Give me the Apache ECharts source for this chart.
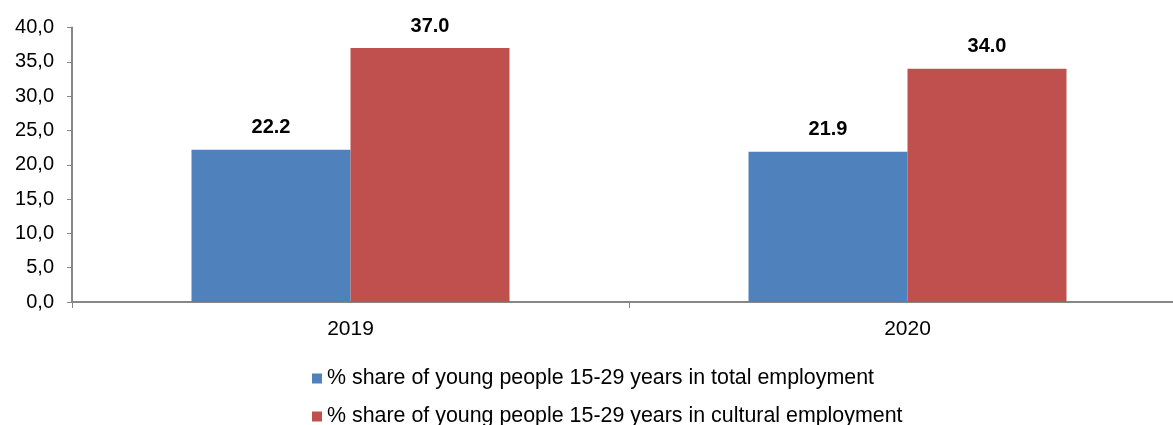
<!DOCTYPE html>
<html>
<head>
<meta charset="utf-8">
<script src="https://cdn.jsdelivr.net/npm/echarts@6/dist/echarts.min.js"></script>
<style>
  html, body { margin: 0; padding: 0; background: #fff; overflow: hidden; }
  /* the plot runs slightly past the right edge of the page */
  #chart { width: 1186px; height: 425px; }
</style>
</head>
<body>
<div id="chart"></div>
<script>
// Share of young people (15-29) in employment, by year
const years = ['2019', '2020'];
const totalEmployment = [22.2, 21.9];
const culturalEmployment = [37.0, 34.0];
const seriesNames = [
  '% share of young people 15-29 years in total employment',
  '% share of young people 15-29 years in cultural employment'
];
const seriesColors = ['#4F81BD', '#C0504D'];

const chart = echarts.init(document.getElementById('chart'));
const font = 'Arial, "Liberation Sans", sans-serif';
const axisGray = '#868686';

const labelStyle = {
  show: true,
  position: 'top',
  distance: 12,
  fontFamily: font,
  fontSize: 20,
  fontWeight: 'bold',
  color: '#000',
  formatter: p => p.value.toFixed(1)
};

// one legend row per series, stacked
const legendRow = (name, top) => ({
  orient: 'horizontal',
  left: 312,
  top: top,
  padding: 0,
  itemWidth: 10,
  itemHeight: 10,
  itemGap: 0,
  icon: 'rect',
  textStyle: { color: '#000', fontSize: 21.4, fontFamily: font },
  data: [name]
});

chart.setOption({
  animation: false,
  textStyle: { fontFamily: font },
  grid: { left: 72, top: 27.5, right: 0, height: 274.5, containLabel: false },
  xAxis: {
    type: 'category',
    data: years,
    axisLine: { lineStyle: { color: axisGray, width: 2 } },
    axisTick: { show: true, length: 6, lineStyle: { color: axisGray } },
    axisLabel: { color: '#000', fontSize: 21, fontFamily: font, margin: 17 }
  },
  yAxis: {
    type: 'value',
    min: 0,
    max: 40,
    interval: 5,
    axisLine: { show: true, lineStyle: { color: axisGray, width: 2 } },
    axisTick: { show: true, length: 5, lineStyle: { color: axisGray } },
    splitLine: { show: false },
    axisLabel: {
      color: '#000', fontSize: 20, fontFamily: font, margin: 18,
      formatter: v => v.toFixed(1).replace('.', ',')
    }
  },
  legend: [
    legendRow(seriesNames[0], 368),
    legendRow(seriesNames[1], 406)
  ],
  series: [
    {
      name: seriesNames[0],
      type: 'bar',
      data: totalEmployment,
      barWidth: 159,
      barGap: '0%',
      itemStyle: { color: seriesColors[0] },
      label: labelStyle
    },
    {
      name: seriesNames[1],
      type: 'bar',
      data: culturalEmployment,
      barWidth: 159,
      barGap: '0%',
      itemStyle: { color: seriesColors[1] },
      label: labelStyle
    }
  ]
});
</script>
</body>
</html>
